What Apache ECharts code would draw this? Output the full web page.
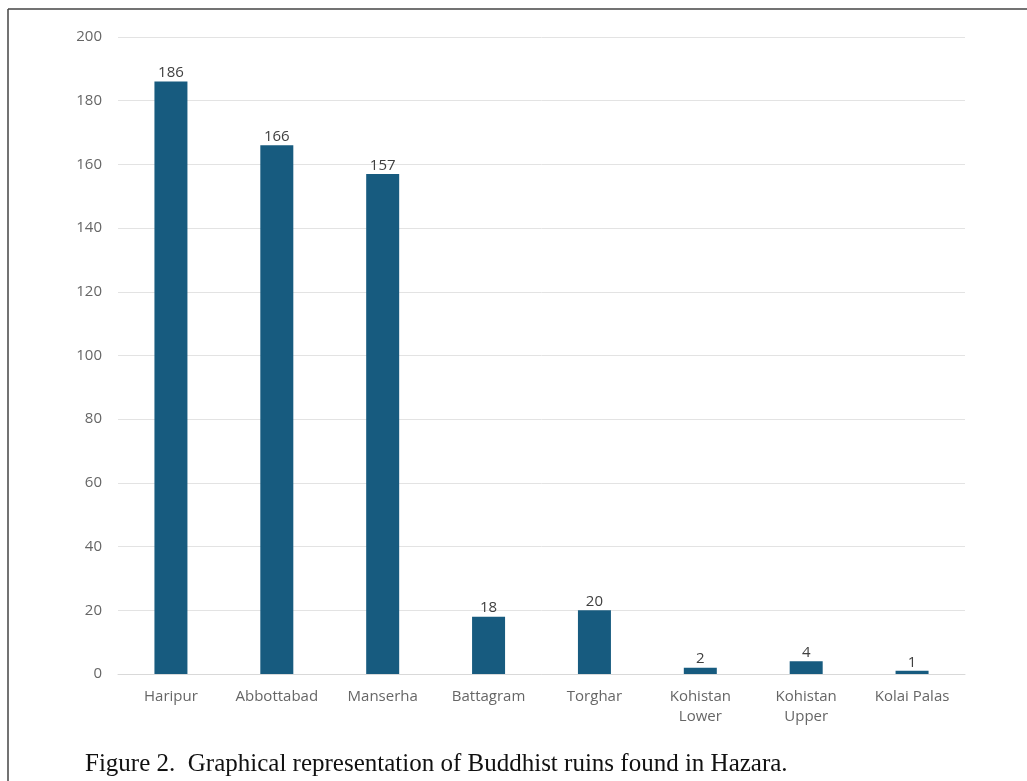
<!DOCTYPE html>
<html>
<head>
<meta charset="utf-8">
<script src="https://cdn.jsdelivr.net/npm/echarts@6/dist/echarts.min.js"></script>
<style>
  html, body { margin: 0; padding: 0; background: #fff; }
  #chart { width: 1027px; height: 781px; }
</style>
</head>
<body>
<div id="chart"></div>
<script>
const districts = ['Haripur', 'Abbottabad', 'Manserha', 'Battagram', 'Torghar', 'Kohistan\nLower', 'Kohistan\nUpper', 'Kolai Palas']
const ruins = [186, 166, 157, 18, 20, 2, 4, 1]
const yTicks = { min: 0, max: 200, interval: 20 }
const caption = 'Figure 2.  Graphical representation of Buddhist ruins found in Hazara.'

const chart = echarts.init(document.getElementById('chart'))

chart.setOption({
  animation: false,
  backgroundColor: '#fff',
  grid: { left: 118, right: 62, top: 37, bottom: 107 },
  xAxis: {
    type: 'category',
    data: districts,
    axisLine: { lineStyle: { color: '#d9d9d9', width: 1 } },
    axisTick: { show: false },
    axisLabel: {
      color: '#666',
      fontSize: 15,
      fontFamily: 'Open Sans',
      lineHeight: 20,
      margin: 13,
      interval: 0,
    },
  },
  yAxis: {
    type: 'value',
    min: yTicks.min,
    max: yTicks.max,
    interval: yTicks.interval,
    axisLine: { show: false },
    axisTick: { show: false },
    splitLine: { lineStyle: { color: '#e3e3e3', width: 1 } },
    axisLabel: { color: '#666', fontSize: 15, fontFamily: 'Open Sans', margin: 16 },
  },
  series: [{
    type: 'bar',
    data: ruins,
    barWidth: 33,
    itemStyle: { color: '#175b7f' },
    label: {
      show: true,
      position: 'top',
      distance: 1,
      color: '#404040',
      fontSize: 15,
      fontFamily: 'Open Sans',
    },
  }],
  graphic: [
    { type: 'line', shape: { x1: 8, y1: 9, x2: 1027, y2: 9 }, style: { stroke: '#444', lineWidth: 1.5 } },
    { type: 'line', shape: { x1: 8, y1: 9, x2: 8, y2: 781 }, style: { stroke: '#444', lineWidth: 1.5 } },
    {
      type: 'text', left: 85, top: 752,
      style: { text: caption, font: '25px "Liberation Serif"', fill: '#111' },
    },
  ],
})
</script>
</body>
</html>
